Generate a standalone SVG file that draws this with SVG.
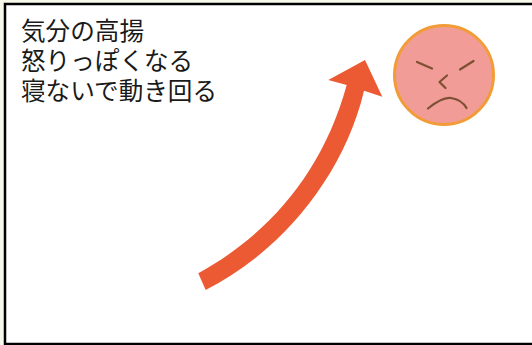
<svg xmlns="http://www.w3.org/2000/svg" width="532" height="345" viewBox="0 0 532 345">
<style>
.t{font-family:"Noto Sans CJK JP","Liberation Sans",sans-serif;font-size:24.6px;fill:#1a1a1a}
.f{fill:none;stroke:#7d4f33;stroke-width:2.2;stroke-linecap:round;stroke-linejoin:round}
</style>
<rect width="532" height="345" fill="#f7f8ea"/>
<rect x="5" y="4" width="535" height="340" fill="#fff" stroke="#000" stroke-width="2.5"/>
<g id="label">
<text class="t"><tspan x="21" y="40">気分の高揚</tspan><tspan x="21" y="70">怒りっぽくなる</tspan><tspan x="21" y="100">寝ないで動き回る</tspan></text>
</g>
<g id="arrow">
<path d="M198.300 273.300C266 236 322 175 346.700 85L328.300 80L365 60L382.300 96.700L364 90.700C343 180 276 255 205.700 290Z" fill="#ec5a33"/>
</g>
<g id="face">
<circle cx="444" cy="75" r="49.500" fill="#f19c96" stroke="#f29c38" stroke-width="3"/>
<path class="f" d="M417 62L432 68.500M473.500 61L460 69.500M447 75.500L439.500 82L445.500 88M428 108.500C436 102 444 97 451 98C458 99 463 102 466.500 108"/>
</g>
</svg>
